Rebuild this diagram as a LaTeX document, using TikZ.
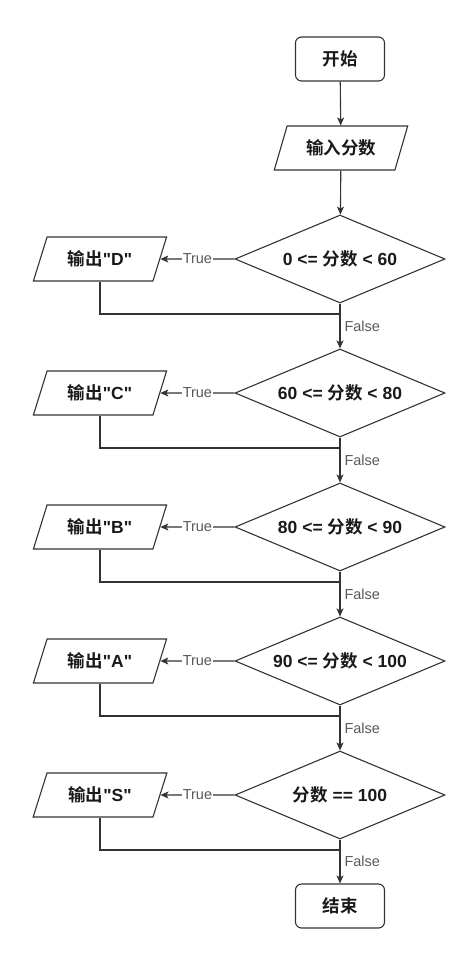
\documentclass[tikz,border=0pt]{standalone}
\usepackage{fontspec}
\setmainfont{Liberation Sans}
\newfontfamily\cjk{Noto Sans CJK SC}[BoldFont={Noto Sans CJK SC Bold}]
\usetikzlibrary{shapes.geometric,arrows.meta}
\definecolor{lineGray}{HTML}{333333}
\definecolor{labelGray}{HTML}{595959}
\newcommand\zh[1]{{\cjk #1}}
\tikzset{
  terminal/.style={draw=lineGray, line width=1.1pt, rounded corners=6pt, minimum width=89pt, minimum height=44pt},
  io/.style={draw=lineGray, line width=1.1pt, trapezium, trapezium left angle=63.4, trapezium right angle=116.6,
    trapezium stretches=true, minimum width=134pt, minimum height=44pt, inner sep=0pt},
  decision/.style={draw=lineGray, line width=1.1pt, diamond, aspect=2.39, minimum width=210pt, minimum height=88pt, inner sep=0pt},
  flow/.style={draw=lineGray, line width=1.1pt, -{Stealth[length=8pt,width=7pt,inset=2pt]}},
  link/.style={draw=lineGray, line width=1.1pt},
  truelabel/.style={fill=white, text=labelGray, inner sep=1pt, font=\fontsize{14.5}{16}\selectfont},
  falselabel/.style={right, xshift=3pt, text=labelGray, inner sep=1pt, font=\fontsize{14.5}{16}\selectfont}
}
\begin{document}
\begin{tikzpicture}[x=1pt, y=-1pt, every node/.append style={text=black!90, font=\fontsize{17.5}{20}\selectfont\bfseries}]
  \useasboundingbox (0,0) rectangle (472,961);

  \def\conds{
    {0 <= \zh{分数} < 60}/D,
    {60 <= \zh{分数} < 80}/C,
    {80 <= \zh{分数} < 90}/B,
    {90 <= \zh{分数} < 100}/A,
    {\zh{分数} == 100}/S}

  % start and input
  \node[terminal] (start) at (340,59) {\zh{开始}};
  \node[io] (input) at (341,148) {\zh{输入分数}};
  \draw[flow] (start) -- (input);

  % draw the decisions and outputs
  \foreach \cond/\grade [count=\ni] in \conds
  {
    \pgfmathsetmacro\cy{259+134*(\ni-1)}
    \node[decision] (cond\ni) at (340,\cy) {\cond};
    \node[io] (out\ni) at (100,\cy) {\zh{输出}\textquotedbl\grade\textquotedbl};
    \coordinate (merge\ni) at (340,\cy+55);
    \draw[flow] (cond\ni.west) -- node[truelabel] {True} (out\ni.east);
    \draw[link] (out\ni.south) |- (merge\ni);
  }

  \node[terminal] (end) at (340,906) {\zh{结束}};

  % draw the false branches
  \draw[flow] (input) -- (cond1);
  \foreach \i/\j in {1/2,2/3,3/4,4/5}
    \draw[flow] (cond\i.south) -- node[falselabel] {False} (cond\j.north);
  \draw[flow] (cond5.south) -- node[falselabel] {False} (end.north);

\end{tikzpicture}
\end{document}
